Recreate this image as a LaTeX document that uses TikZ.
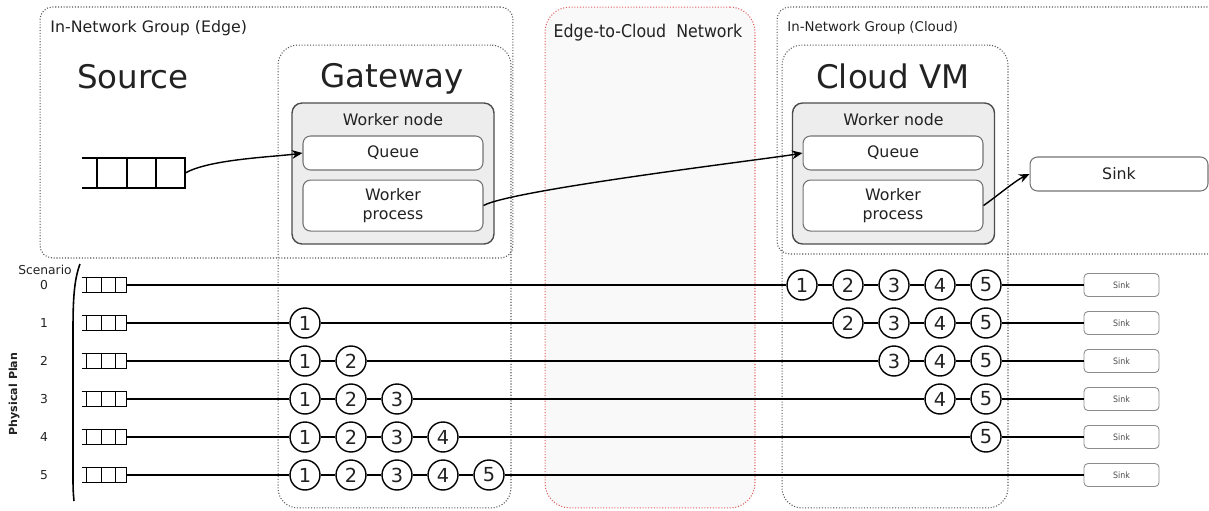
\documentclass[tikz,border=0pt]{standalone}
\usepackage{fontspec}
\setmainfont{DejaVu Sans}
\newfontfamily\condfont[FakeStretch=0.9]{DejaVu Sans}
\usepackage{tikz}
\usetikzlibrary{positioning, arrows, arrows.meta, shapes, calc}
\definecolor{framegray}{HTML}{555555}
\definecolor{netred}{HTML}{E06060}
\definecolor{inkgray}{HTML}{222222}
\tikzset{
    >={Stealth[length=6pt, width=5pt]}, % arrow heads as in the rest of the paper
    group/.style={draw=framegray, densely dotted, line width=0.6pt, rounded corners=0.25cm}, % in-network groups
    device/.style={group, rounded corners=0.4cm}, % gateway and cloud VM
    network/.style={draw=netred, densely dotted, line width=0.6pt, fill=black!2.5, rounded corners=0.5cm},
    grouptitle/.style={inner sep=0pt, text=inkgray, font=\fontsize{9}{10}\selectfont},
    title/.style={inner sep=0pt, text=inkgray, font=\fontsize{18.5}{22}\selectfont},
    worker/.style={draw=black!70, fill=black!7, line width=0.8pt, rounded corners=0.2cm, minimum width=4.04cm, minimum height=2.82cm},
    part/.style={draw=black!55, fill=white, line width=0.6pt, rounded corners=0.15cm, minimum width=3.6cm, align=center, text=inkgray, font=\fontsize{9}{11}\selectfont},
    qicon/.style={inner sep=0pt}, % queue icon, lines drawn on top
    stage/.style={circle, draw, line width=0.8pt, fill=white, minimum size=0.6cm, inner sep=0pt, text=inkgray, font=\fontsize{11}{12}\selectfont},
    minisink/.style={draw=black!45, line width=0.5pt, rounded corners=0.08cm, minimum width=1.5cm, minimum height=0.46cm, text=black!70, font=\condfont\fontsize{5}{6}\selectfont},
    flow/.style={line width=0.8pt},
    small/.style={inner sep=0pt, text=inkgray, font=\fontsize{7}{8}\selectfont},
}

\begin{document}
\begin{tikzpicture}[x=0.02cm, y=-0.02cm]
    \useasboundingbox (0,0) rectangle (1209,510);

    % frames
    \node[group, minimum width=9.46cm, minimum height=5.02cm] (edgegrp) at (276.5,132.5) {};
    \node[group, minimum width=8.86cm, minimum height=4.94cm] (cloudgrp) at (998.5,130.5) {};
    \node[network, minimum width=4.2cm, minimum height=10.02cm] (net) at (650,257.5) {};
    \node[device, minimum width=4.66cm, minimum height=9.26cm] (gw) at (394.5,276.5) {};
    \node[device, minimum width=4.52cm, minimum height=9.26cm] (vm) at (895,276.5) {};

    \node[grouptitle, anchor=base west] (edgelbl) at (50,33) {In-Network Group (Edge)};
    \node[grouptitle, font=\fontsize{7.6}{9}\selectfont, anchor=base west] (cloudlbl) at (787,32) {In-Network Group (Cloud)};
    \node[inner sep=0pt, text=inkgray, font=\condfont\fontsize{10}{12}\selectfont, anchor=base] (netlbl) at (648,38) {Edge-to-Cloud~ Network};

    \node[title, anchor=base] (srclbl) at (133,89) {Source};
    \node[title, anchor=base] (gwlbl) at (392,88) {Gateway};
    \node[title, anchor=base] (vmlbl) at (893,89) {Cloud VM};

    % worker nodes
    \node[worker] (gwworker) at (393,173.5) {};
    \node[part, draw=none, fill=none, minimum width=0pt, inner sep=0pt, anchor=base] (gwtitle) at (393,125) {Worker node};
    \node[part, minimum height=0.68cm] (gwq) at (393,153) {Queue};
    \node[part, minimum height=1.02cm, below=0.18cm of gwq] (gwp) {Worker\\process};

    \node[worker] (vmworker) at (893.5,173.5) {};
    \node[part, draw=none, fill=none, minimum width=0pt, inner sep=0pt, anchor=base] (vmtitle) at (893.5,125) {Worker node};
    \node[part, minimum height=0.68cm] (vmq) at (893,153) {Queue};
    \node[part, minimum height=1.02cm, below=0.18cm of vmq] (vmp) {Worker\\process};

    \node[part, minimum width=3.56cm, minimum height=0.68cm] (sink) at (1119,174) {Sink};

    % source queue
    \node[qicon, minimum width=2.06cm, minimum height=0.6cm] (srcq) at (133.5,173) {};
    \draw[line width=1.1pt] (srcq.north west) -- (srcq.north east) -- (srcq.south east) -- (srcq.south west);
    \foreach \f in {0.15,0.44,0.72}
        \draw[line width=1.1pt] ($(srcq.north west)!\f!(srcq.north east)$) -- ($(srcq.south west)!\f!(srcq.south east)$);

    \path[->, flow]
        (srcq.east) edge[out=30, in=188, looseness=0.6] (gwq.west)
        (gwp.east) edge[out=30, in=190, looseness=0.25] (vmq.west)
        (vmp.east) edge[out=35, in=205, looseness=0.7] (sink.west);

    % physical plan per scenario
    \node[small, anchor=base] (scen) at (45,274) {Scenario};
    \node[small, font=\bfseries\fontsize{6.3}{7}\selectfont, rotate=90] (plan) at (14,394) {Physical Plan};
    \draw[line width=0.9pt] (80,264) .. controls (74,280) and (73,300) .. (73,330) -- (73,470) .. controls (73,490) .. (74,501);

    \foreach \r in {0,...,5} {
        \pgfmathsetmacro{\ry}{285+38*\r}
        \node[small, anchor=base] (n\r) at (44,\ry+4.5) {\r};
        \node[qicon, minimum width=0.88cm, minimum height=0.3cm] (q\r) at (104,\ry) {};
        \draw[line width=0.6pt] (q\r.north west) -- (q\r.north east) -- (q\r.south east) -- (q\r.south west);
        \foreach \f in {0.11,0.45,0.75}
            \draw[line width=0.6pt] ($(q\r.north west)!\f!(q\r.north east)$) -- ($(q\r.south west)!\f!(q\r.south east)$);
        \node[minisink] (s\r) at (1121.5,\ry) {Sink};
        \foreach \k in {1,...,5} {
            \pgfmathsetmacro{\cx}{\k<\r+1 ? 305+46*(\k-1) : 802+46*(\k-1)}
            \node[stage] (c\r\k) at (\cx,\ry) {\k};
        }
        \draw[flow] (q\r) -- (c\r1) -- (c\r2) -- (c\r3) -- (c\r4) -- (c\r5) -- (s\r);
    }
\end{tikzpicture}
\end{document}
